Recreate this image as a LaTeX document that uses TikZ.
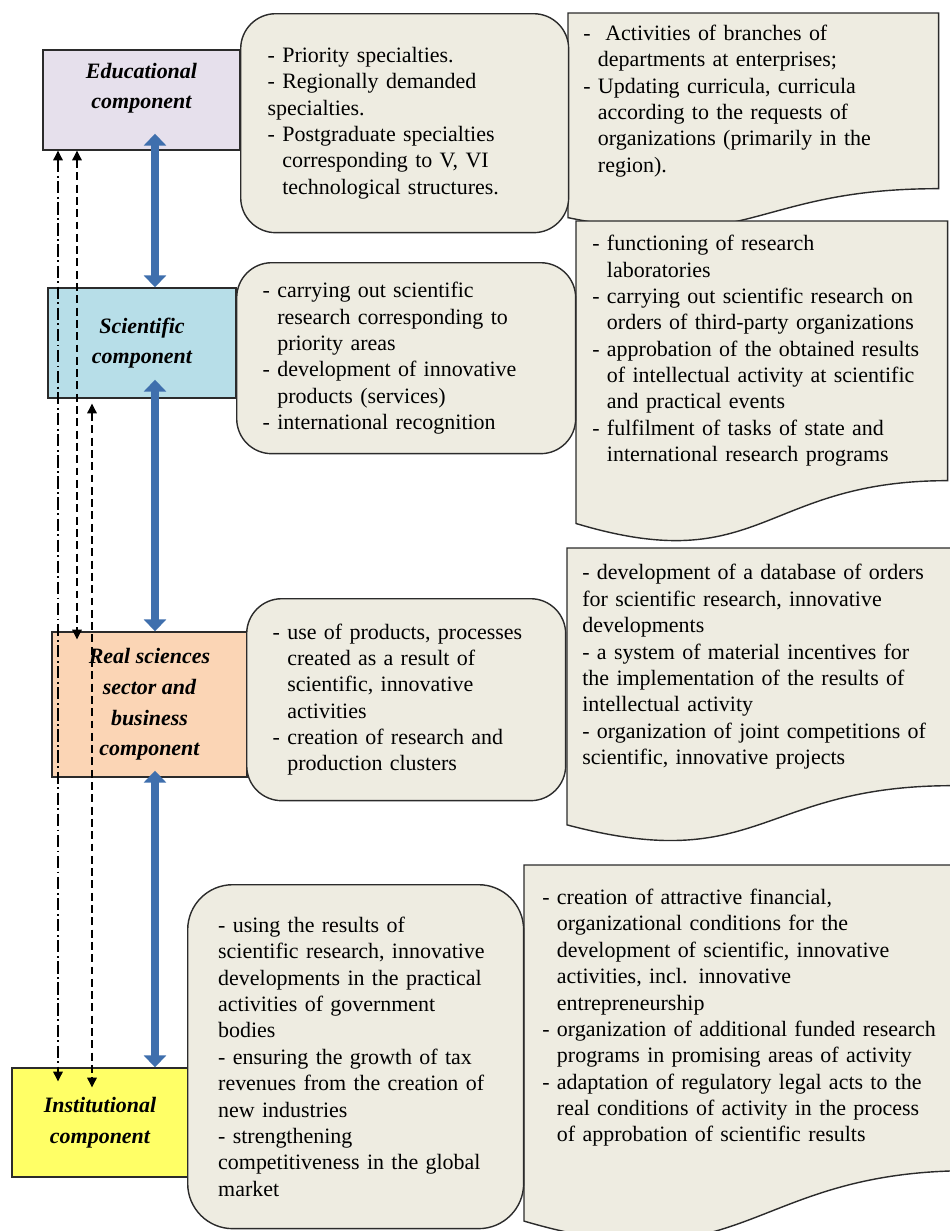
\documentclass[tikz,border=0pt]{standalone}
\usepackage{fontspec}
\setmainfont{Liberation Serif}
\usetikzlibrary{arrows.meta,calc,backgrounds}
\definecolor{EduLilac}{HTML}{E6E0EC}
\definecolor{SciBlue}{HTML}{B7DEE8}
\definecolor{RealPeach}{HTML}{FBD5B5}
\definecolor{InstYellow}{HTML}{FFFF66}
\definecolor{NoteTan}{HTML}{EEECE1}
\definecolor{LinkBlue}{HTML}{3F6FAD}
\definecolor{EdgeGrey}{HTML}{2B2B2B}

% Einrueckung nach dem Spiegelstrich
\newcommand\ind{\phantom{-}\ }
% Dokument-Form mit Wellenkante unter einem Textknoten
\newcommand\docwave[1]{%
  \begin{scope}[on background layer]
    \draw[docline] (#1.north west) -- (#1.north east) -- (#1.south east)
      .. controls (#1.south) and ($(#1.south)!-0.38!(#1.north)$)
      .. ($(#1.south west)!-0.165!(#1.north west)$) -- cycle;
  \end{scope}}

\tikzset{
  comp/.style={draw=EdgeGrey, line width=0.8pt, inner sep=0pt, align=center,
    font=\fontsize{12.5}{17.5}\selectfont\bfseries\itshape},
  note/.style={draw=EdgeGrey, fill=NoteTan, line width=0.8pt, rounded corners=0.7cm,
    anchor=north west, align=left, inner sep=0pt, font=\fontsize{12.5}{15}\selectfont},
  docnote/.style={anchor=north west, align=left, inner sep=0pt,
    font=\fontsize{12.5}{15}\selectfont},
  docline/.style={draw=EdgeGrey, fill=NoteTan, line width=0.8pt},
  link/.style={draw=LinkBlue, line width=4.5pt,
    {Triangle[width=12.5pt,length=6.8pt]}-{Triangle[width=12.5pt,length=6.8pt]}},
  tie/.style={draw=black, line width=0.6pt,
    {Triangle[width=5.5pt,length=5.5pt]}-{Triangle[width=5.5pt,length=5.5pt]}},
  dashdot/.style={dash pattern=on 7pt off 2pt on 1pt off 2pt},
  dashline/.style={dash pattern=on 4.5pt off 2.5pt}
}

\begin{document}
\begin{tikzpicture}[x=0.02cm, y=-0.02cm]
  \useasboundingbox (0,0) rectangle (950,1231);

  % Komponenten links
  \node[comp, fill=EduLilac, minimum width=3.94cm, minimum height=2cm, text depth=16pt]
    (edu) at (141.5,100) {Educational\\component};
  \node[comp, fill=SciBlue, minimum width=3.76cm, minimum height=2.2cm]
    (sci) at (142,343) {Scientific\\component};
  \node[comp, fill=RealPeach, minimum width=3.9cm, minimum height=2.9cm]
    (real) at (149.5,704.5) {Real sciences\\sector and\\business\\component};
  \node[comp, fill=InstYellow, minimum width=3.52cm, minimum height=2.18cm]
    (inst) at (100,1122.5) {Institutional\\component};

  \coordinate (axis) at (155,0);
  \coordinate (dd) at (58,0);
  \coordinate (da) at (77,0);
  \coordinate (db) at (92,0);

  % dicke Doppelpfeile
  \draw[link, shorten <=-0.34cm] (edu.south -| axis) -- (sci.north -| axis);
  \draw[link, shorten <=-0.38cm] (sci.south -| axis) -- (real.north -| axis);
  \draw[link, shorten <=-0.14cm] (real.south -| axis) -- (inst.north -| axis);

  % Rueckkopplungen
  \draw[tie, dashdot, shorten >=-0.28cm] (edu.south -| dd) -- (inst.north -| dd);
  \draw[tie, dashline, shorten >=-0.16cm] (edu.south -| da) -- (real.north -| da);
  \draw[tie, dashline, shorten <=0.1cm, shorten >=-0.4cm] (sci.south -| db) -- (inst.north -| db);

  % abgerundete Kaesten
  \node[note, minimum width=6.56cm, minimum height=4.38cm, text width=5.48cm] (eduNote) at (240,13) {%
    - Priority specialties.\\
    - Regionally demanded\\
    specialties.\\
    - Postgraduate specialties\\
    \ind corresponding to V, VI\\
    \ind technological structures.};
  \node[note, minimum width=6.78cm, minimum height=3.82cm, text width=5.74cm] (sciNote) at (236,262) {%
    - carrying out scientific\\
    \ind research corresponding to\\
    \ind priority areas\\
    - development of innovative\\
    \ind products (services)\\
    - international recognition};
  \node[note, minimum width=6.38cm, minimum height=4.04cm, text width=5.34cm] (realNote) at (246,598) {%
    - use of products, processes\\
    \ind created as a result of\\
    \ind scientific, innovative\\
    \ind activities\\
    - creation of research and\\
    \ind production clusters};
  \node[note, rounded corners=0.9cm, minimum width=6.72cm, minimum height=6.88cm, text width=5.5cm] (instNote) at (187,884) {%
    - using the results of\\
    scientific research, innovative\\
    developments in the practical\\
    activities of government\\
    bodies\\
    - ensuring the growth of tax\\
    revenues from the creation of\\
    new industries\\
    - strengthening\\
    competitiveness in the global\\
    market};

  % Dokument-Kaesten rechts
  \node[docnote, minimum width=7.4cm, minimum height=3.5cm, text width=6.8cm] (eduDoc) at (568,13) {%
    -\ \ Activities of branches of\\
    \ind departments at enterprises;\\
    - Updating curricula, curricula\\
    \ind according to the requests of\\
    \ind organizations (primarily in the\\
    \ind region).};
  \docwave{eduDoc}
  \node[docnote, minimum width=7.42cm, minimum height=5.18cm, text width=6.78cm] (sciDoc) at (576,221) {%
    - functioning of research\\
    \ind laboratories\\
    - carrying out scientific research on\\
    \ind orders of third-party organizations\\
    - approbation of the obtained results\\
    \ind of intellectual activity at scientific\\
    \ind and practical events\\
    - fulfilment of tasks of state and\\
    \ind international research programs};
  \docwave{sciDoc}
  \node[docnote, minimum width=7.7cm, minimum height=4.74cm, text width=7.1cm] (realDoc) at (567,548) {%
    - development of a database of orders\\
    for scientific research, innovative\\
    developments\\
    - a system of material incentives for\\
    the implementation of the results of\\
    intellectual activity\\
    - organization of joint competitions of\\
    scientific, innovative projects};
  \docwave{realDoc}
  \node[docnote, minimum width=8.92cm, minimum height=6.1cm, text width=8.2cm] (instDoc) at (524,865) {%
    - creation of attractive financial,\\
    \ind organizational conditions for the\\
    \ind development of scientific, innovative\\
    \ind activities, incl. innovative\\
    \ind entrepreneurship\\
    - organization of additional funded research\\
    \ind programs in promising areas of activity\\
    - adaptation of regulatory legal acts to the\\
    \ind real conditions of activity in the process\\
    \ind of approbation of scientific results};
  \docwave{instDoc}
\end{tikzpicture}
\end{document}
